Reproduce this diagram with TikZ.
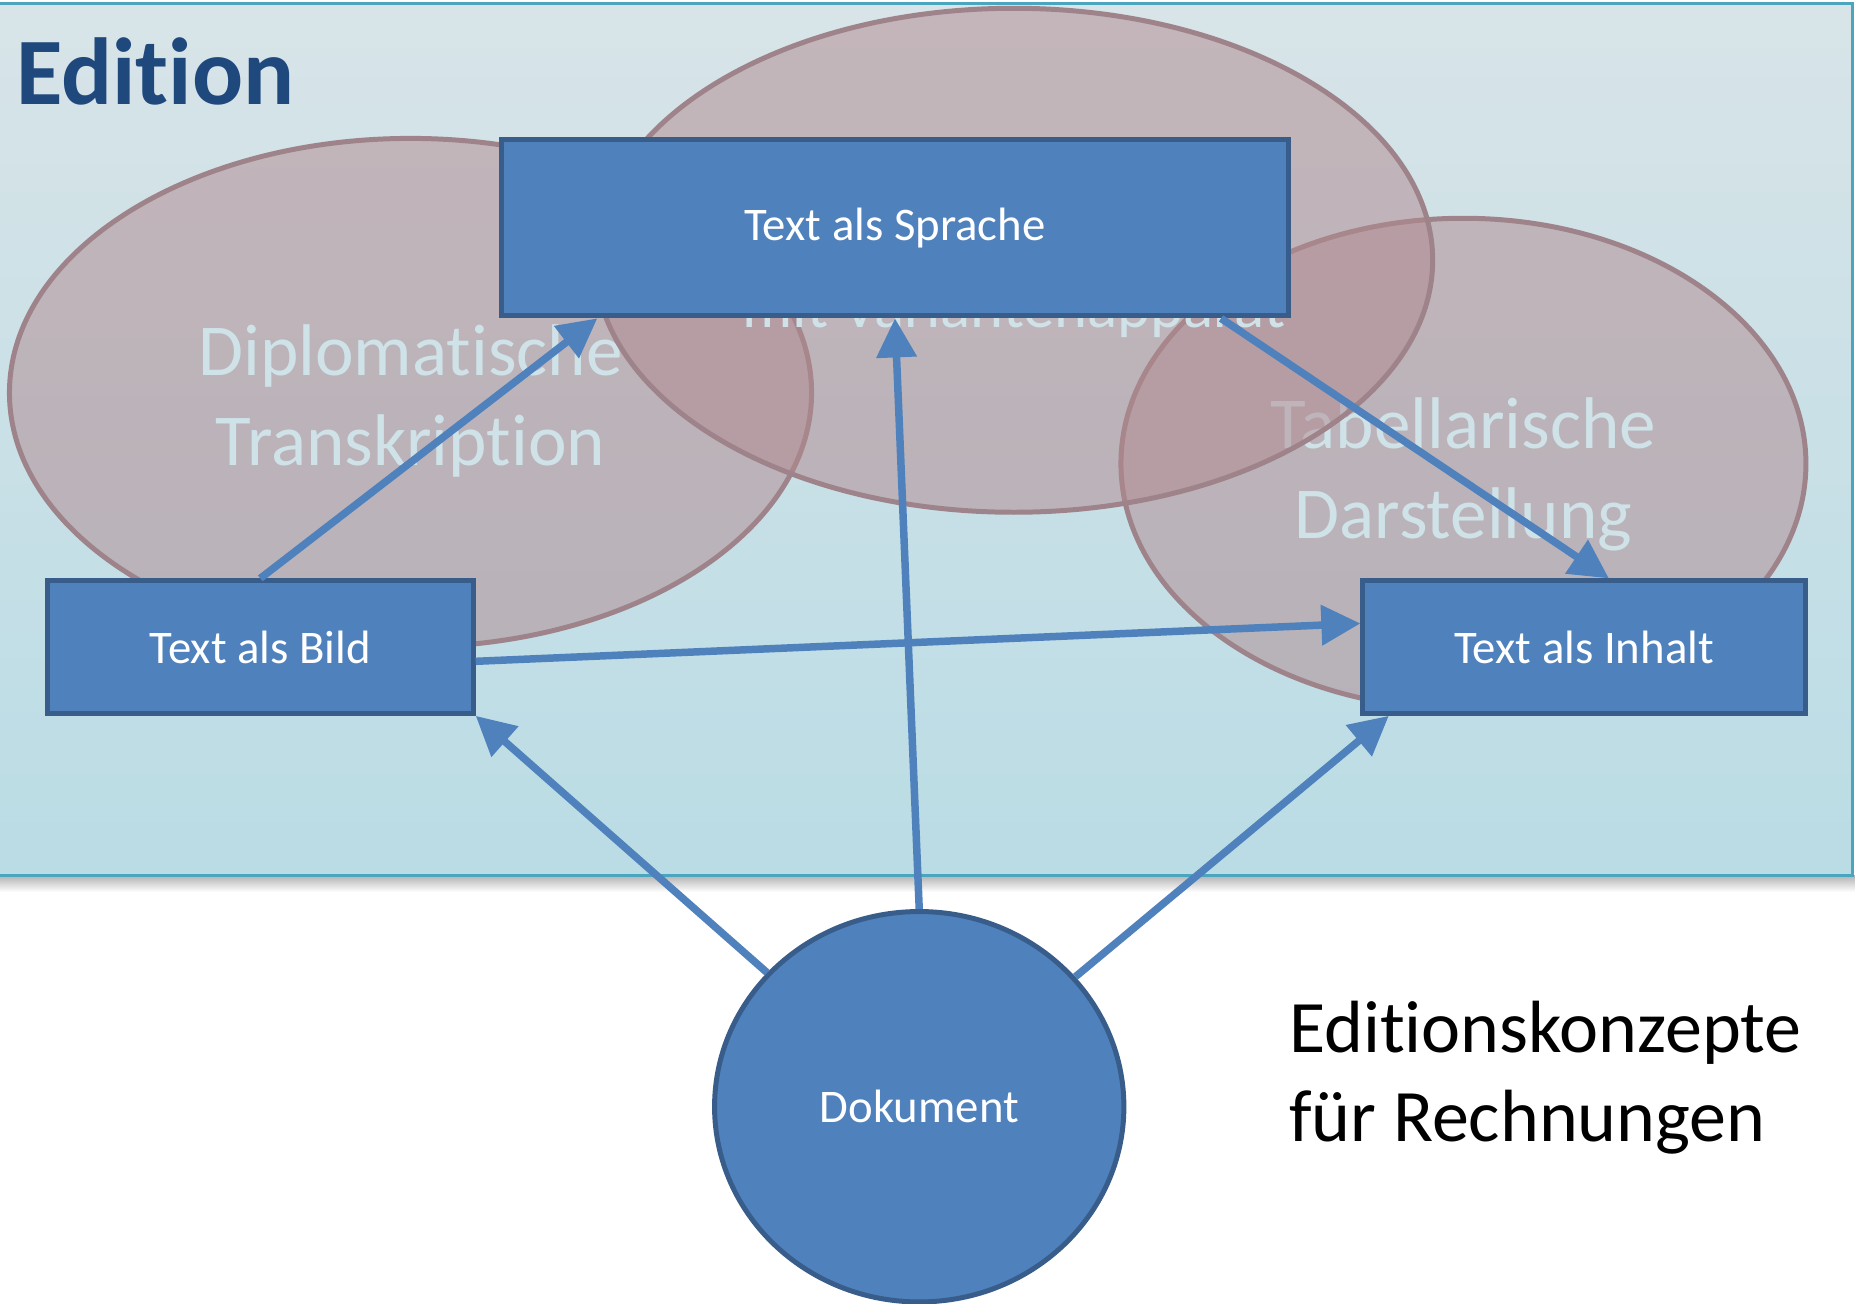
\documentclass[tikz,border=0pt]{standalone}
\usepackage{fontspec}
\setmainfont[Ligatures=NoCommon]{Carlito}
\usepackage{tikz}
\usepackage{xcolor}
\definecolor{maincolor}{RGB}{79,129,189}
\definecolor{framecolor}{RGB}{56,93,138}
\definecolor{titlecolor}{RGB}{31,73,125}
\definecolor{ovalcolor}{RGB}{176,136,142}
\definecolor{ovalline}{RGB}{158,132,138}
\definecolor{ovaltextcolor}{RGB}{206,226,232}
\definecolor{paneltop}{RGB}{216,228,232}
\definecolor{panelbottom}{RGB}{186,220,229}
\definecolor{panelline}{RGB}{75,165,190}
\colorlet{boxcolor}{maincolor}
\colorlet{arrowcolor}{maincolor}
\usetikzlibrary{
  arrows.meta,
  shapes.geometric,
}

\begin{document}
\begin{tikzpicture}
	\tikzstyle{every node}=[font=\fontsize{11.25}{13.5}\selectfont]
	\tikzstyle{box}=[draw=framecolor, line width=1.2pt, fill=boxcolor, text=white, inner sep=0pt]
	\tikzstyle{oval}=[draw=ovalline, line width=1.2pt, fill=ovalcolor, fill opacity=0.5]
	\tikzstyle{ovaltext}=[text=ovaltextcolor, align=center, inner sep=0pt, font=\fontsize{17.6}{21.6}\selectfont]
	\tikzstyle{link}=[arrowcolor, line width=1.8pt, -{Triangle[length=0.33cm, width=0.33cm]}]
	\useasboundingbox (0,0) rectangle (15.68,11.02);
	% background panel
	\shade [top color=black!30, bottom color=white] (0,3.62) rectangle (15.68,3.48);
	\shade [top color=paneltop, bottom color=panelbottom] (-0.1,3.62) rectangle (15.66,10.99);
	\draw [panelline, line width=0.6pt] (-0.1,3.62) rectangle (15.66,10.99);
	\node (title) [anchor=base west, text=titlecolor, inner sep=0pt, font=\fontsize{22.9}{26}\selectfont\bfseries] at (0.13,10.14) {Edition};
	% ovals
	\draw [oval] (3.47,7.70) ellipse [x radius=3.39, y radius=2.15];
	\node (diplo) [ovaltext] at (3.47,7.63) {Diplomatische\\Transkription};
	\draw [oval] (12.37,7.10) ellipse [x radius=2.895, y radius=2.075];
	\node (tabel) [ovaltext] at (12.37,7.01) {Tabellarische\\Darstellung};
	\draw [oval] (8.57,8.82) ellipse [x radius=3.54, y radius=2.13];
	\node (varia) [ovaltext, anchor=base, font=\fontsize{15.1}{18}\selectfont] at (8.57,8.25) {mit Variantenapparat};
	% concepts
	\node (sprache) [box, minimum width=6.65cm, minimum height=1.49cm] at (7.565,9.095) {Text als Sprache};
	\node (bild) [box, minimum width=3.60cm, minimum height=1.12cm] at (2.20,5.55) {Text als Bild};
	\node (inhalt) [box, minimum width=3.74cm, minimum height=1.12cm] at (13.39,5.55) {Text als Inhalt};
	\node (doc) [box, ellipse, minimum width=3.46cm, minimum height=3.30cm] at (7.77,1.665) {Dokument};
	\node (caption) [anchor=west, align=left, inner sep=0pt, font=\fontsize{17.8}{21.6}\selectfont] at (10.89,1.91) {Editionskonzepte\\für Rechnungen};
	% arrows from the document
	\draw [link] (doc) -- (bild.south east);
	\draw [link] (doc.north) -- (sprache.south);
	\draw [link] (doc) -- ([xshift=0.24cm]inhalt.south west);
	% arrows between concepts
	\draw [link] (bild.north) -- ([xshift=0.83cm]sprache.south west);
	\draw [link] ([xshift=-0.59cm]sprache.south east) -- ([xshift=0.21cm]inhalt.north);
	\draw [link] ([yshift=-0.12cm]bild.east) -- ([yshift=0.2cm]inhalt.west);
\end{tikzpicture}
\end{document}
